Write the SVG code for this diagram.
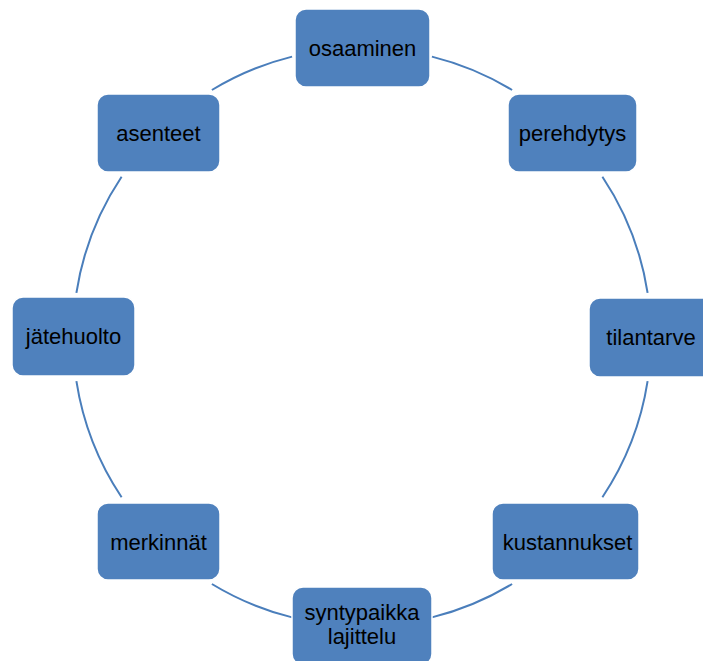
<svg xmlns="http://www.w3.org/2000/svg" width="703" height="661" viewBox="0 0 703 661">
<style>
.box{fill:#4F81BD;stroke:#FFFFFF;stroke-width:1.5}
.lbl{font-family:"Liberation Sans",Arial,sans-serif;font-size:22px;fill:#000000;text-anchor:middle}
.arc{fill:none;stroke:#4A7EBB;stroke-width:2}
</style>
<rect width="703" height="661" fill="#FFFFFF"/>
<g id="connectors">
<path class="arc" d="M211.9,90 A289,289 0 0 1 292.1,56.6"/>
<path class="arc" d="M431.9,56.6 A289,289 0 0 1 512.1,90"/>
<path class="arc" d="M602.4,176.7 A289,289 0 0 1 647.6,292.8"/>
<path class="arc" d="M647.6,381.2 A289,289 0 0 1 602.4,497.3"/>
<path class="arc" d="M512.1,584 A289,289 0 0 1 431.9,617.4"/>
<path class="arc" d="M292.1,617.4 A289,289 0 0 1 211.9,584"/>
<path class="arc" d="M121.6,497.3 A289,289 0 0 1 76.4,381.2"/>
<path class="arc" d="M76.4,292.8 A289,289 0 0 1 121.6,176.7"/>
</g>
<g id="osaaminen"><rect class="box" x="295" y="9" width="135" height="78" rx="11"/><text class="lbl" x="362.5" y="55.5">osaaminen</text></g>
<g id="perehdytys"><rect class="box" x="508" y="94" width="129" height="78" rx="11"/><text class="lbl" x="572.5" y="140.5">perehdytys</text></g>
<g id="tilantarve"><rect class="box" x="589" y="298" width="125" height="79" rx="11"/><text class="lbl" x="651" y="345">tilantarve</text></g>
<g id="kustannukset"><rect class="box" x="492" y="503" width="147" height="77" rx="11"/><text class="lbl" x="567.5" y="549.5">kustannukset</text></g>
<g id="syntypaikka"><rect class="box" x="292" y="587" width="140" height="78" rx="11"/><text class="lbl" x="362" y="620">syntypaikka</text><text class="lbl" x="362" y="644">lajittelu</text></g>
<g id="merkinnat"><rect class="box" x="97" y="503" width="123" height="77" rx="11"/><text class="lbl" x="158.5" y="549.5">merkinnät</text></g>
<g id="jatehuolto"><rect class="box" x="12" y="297" width="123" height="79" rx="11"/><text class="lbl" x="73.5" y="344">jätehuolto</text></g>
<g id="asenteet"><rect class="box" x="97" y="94" width="123" height="78" rx="11"/><text class="lbl" x="158.5" y="140.5">asenteet</text></g>
</svg>
